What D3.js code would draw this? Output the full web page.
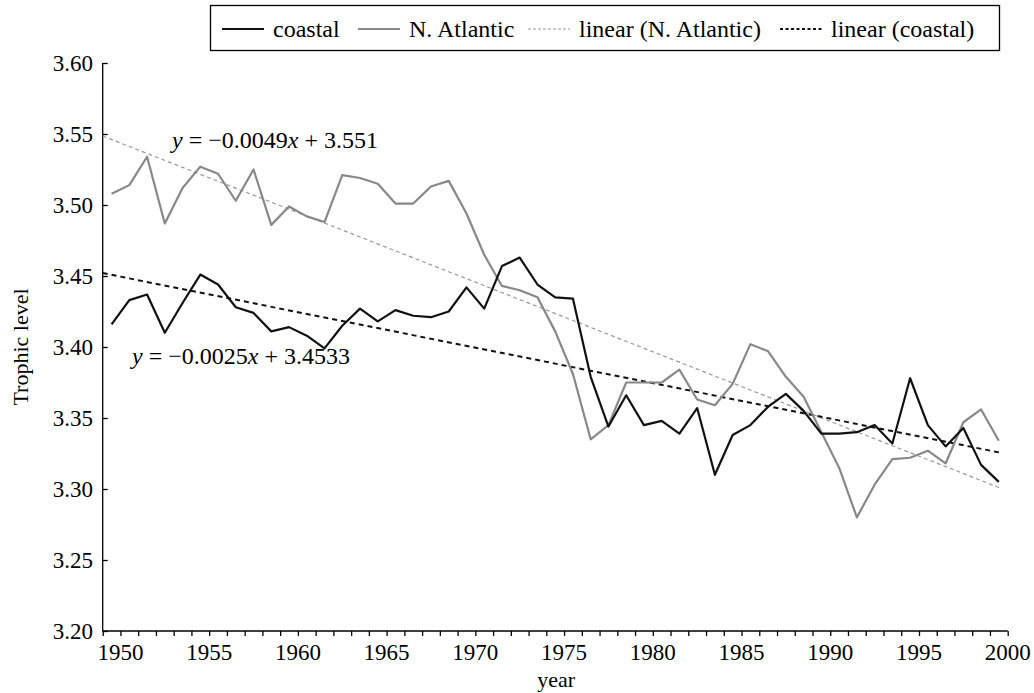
<!DOCTYPE html>
<html>
<head>
<meta charset="utf-8">
<script src="https://cdn.jsdelivr.net/npm/d3@7"></script>
<style>
  body { margin: 0; background: #fff; }
  svg { display: block; }
</style>
</head>
<body>
<div id="chart"></div>
<script>
const years = d3.range(1950, 2001);

const coastal = [
  3.416, 3.433, 3.437, 3.410, 3.431, 3.451, 3.444, 3.428, 3.424, 3.411,
  3.414, 3.408, 3.399, 3.415, 3.427, 3.418, 3.426, 3.422, 3.421, 3.425,
  3.442, 3.427, 3.457, 3.463, 3.444, 3.435, 3.434, 3.379, 3.344, 3.366,
  3.345, 3.348, 3.339, 3.357, 3.310, 3.338, 3.345, 3.358, 3.367, 3.355,
  3.339, 3.339, 3.340, 3.345, 3.332, 3.378, 3.345, 3.330, 3.343, 3.317,
  3.305
];

const atlantic = [
  3.508, 3.514, 3.534, 3.487, 3.512, 3.527, 3.522, 3.503, 3.525, 3.486,
  3.499, 3.492, 3.488, 3.521, 3.519, 3.515, 3.501, 3.501, 3.513, 3.517,
  3.494, 3.465, 3.443, 3.440, 3.435, 3.411, 3.381, 3.335, 3.345, 3.375,
  3.375, 3.375, 3.384, 3.363, 3.359, 3.374, 3.402, 3.397, 3.379, 3.365,
  3.340, 3.315, 3.280, 3.303, 3.321, 3.322, 3.327, 3.318, 3.347, 3.356,
  3.334
];

// trend lines as printed on the chart, x = 1 for 1950
const trendAtlantic = { slope: -0.0049, intercept: 3.551 };
const trendCoastal = { slope: -0.0025, intercept: 3.4533 };

const yTicks = [3.20, 3.25, 3.30, 3.35, 3.40, 3.45, 3.50, 3.55, 3.60];
const xLabels = d3.range(1950, 2001, 5);

const width = 1034, height = 693;
const serif = "'Liberation Serif', 'Times New Roman', Times, serif";

const x = d3.scaleLinear().domain([1949.5, 2000.5]).range([102.7, 1007.7]);
const y = d3.scaleLinear().domain([3.20, 3.60]).range([631, 63]);

const svg = d3.select("#chart").append("svg")
  .attr("width", width)
  .attr("height", height)
  .attr("font-family", serif);

// axes
const yAxis = svg.append("g")
  .attr("transform", `translate(${x.range()[0]},0)`)
  .call(d3.axisRight(y).tickValues(yTicks).tickSize(5).tickFormat(""));
yAxis.select(".domain").attr("d", `M0,${y.range()[1]}V${y.range()[0]}`);

svg.append("g")
  .selectAll("text")
  .data(yTicks)
  .join("text")
  .attr("font-family", serif)
  .attr("x", 93)
  .attr("y", (d) => y(d))
  .attr("dy", "0.35em")
  .attr("text-anchor", "end")
  .attr("font-size", 23)
  .text((d) => d.toFixed(2));

const xAxis = svg.append("g")
  .attr("transform", `translate(0,${y.range()[0]})`)
  .call(d3.axisBottom(x).tickValues(d3.range(1949.5, 2001, 1)).tickSize(5).tickFormat(""));
xAxis.select(".domain").attr("d", `M${x.range()[0]},0H${x.range()[1]}`);

svg.selectAll(".domain, .tick line").attr("stroke", "#000").attr("stroke-width", 1.3);

svg.append("g")
  .selectAll("text")
  .data(xLabels)
  .join("text")
  .attr("font-family", serif)
  .attr("x", (d) => x(d + 0.5))
  .attr("y", 660)
  .attr("text-anchor", "middle")
  .attr("font-size", 23)
  .text((d) => d);

svg.append("text")
  .attr("font-family", serif)
  .attr("x", x(1975.5) - 8)
  .attr("y", 687)
  .attr("text-anchor", "middle")
  .attr("font-size", 22)
  .text("year");

svg.append("text")
  .attr("font-family", serif)
  .attr("transform", `translate(28,${(y.range()[0] + y.range()[1]) / 2}) rotate(-90)`)
  .attr("text-anchor", "middle")
  .attr("font-size", 22)
  .text("Trophic level");

// trend lines
const trendYears = [1949.5, 2000];
const trendLine = (t) =>
  d3.line()
    .x((d) => x(d))
    .y((d) => y(t.slope * (d - 1949) + t.intercept))(trendYears);

svg.append("path")
  .attr("d", trendLine(trendAtlantic))
  .attr("fill", "none")
  .attr("stroke", "#999")
  .attr("stroke-width", 1.2)
  .attr("stroke-dasharray", "4,3");

svg.append("path")
  .attr("d", trendLine(trendCoastal))
  .attr("fill", "none")
  .attr("stroke", "#111")
  .attr("stroke-width", 2)
  .attr("stroke-dasharray", "5,4");

// series
const line = d3.line()
  .x((d, i) => x(years[i]))
  .y((d) => y(d));

svg.append("path")
  .attr("d", line(atlantic))
  .attr("fill", "none")
  .attr("stroke", "#888")
  .attr("stroke-width", 2.2)
  .attr("stroke-linejoin", "round");

svg.append("path")
  .attr("d", line(coastal))
  .attr("fill", "none")
  .attr("stroke", "#111")
  .attr("stroke-width", 2.2)
  .attr("stroke-linejoin", "round");

// equations
const eq = (g, coef, icpt) => {
  const t = g.append("text").attr("font-family", serif).attr("font-size", 24);
  t.append("tspan").attr("font-style", "italic").text("y");
  t.append("tspan").text(` = \u2212${coef}`);
  t.append("tspan").attr("font-style", "italic").text("x");
  t.append("tspan").text(` + ${icpt}`);
  return t;
};
eq(svg, "0.0049", "3.551").attr("x", 172).attr("y", 148);
eq(svg, "0.0025", "3.4533").attr("x", 132).attr("y", 364);

// legend
const legendItems = [
  { label: "coastal", color: "#111", width: 2.2, dash: null, x: 222 },
  { label: "N. Atlantic", color: "#888", width: 2.2, dash: null, x: 358 },
  { label: "linear (N. Atlantic)", color: "#999", width: 1.2, dash: "3,2", x: 528 },
  { label: "linear (coastal)", color: "#111", width: 2, dash: "3,2.5", x: 780 }
];

svg.append("rect")
  .attr("x", 210.5)
  .attr("y", 5.5)
  .attr("width", 789)
  .attr("height", 45)
  .attr("fill", "#fff")
  .attr("stroke", "#000")
  .attr("stroke-width", 1.3);

const li = svg.append("g")
  .selectAll("g")
  .data(legendItems)
  .join("g")
  .attr("transform", (d) => `translate(${d.x},29)`);

li.append("line")
  .attr("x1", 0)
  .attr("x2", 42)
  .attr("stroke", (d) => d.color)
  .attr("stroke-width", (d) => d.width)
  .attr("stroke-dasharray", (d) => d.dash);

li.append("text")
  .attr("font-family", serif)
  .attr("x", 51)
  .attr("dy", "0.33em")
  .attr("font-size", 24)
  .text((d) => d.label);
</script>
</body>
</html>
